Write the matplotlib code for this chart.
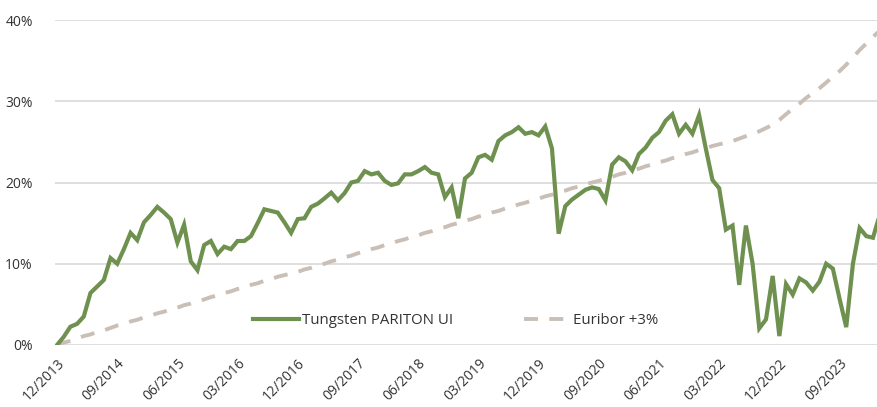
import matplotlib
matplotlib.use("Agg")
from matplotlib import pyplot as plt
import pandas as pd

# monthly performance since 12/2013, in %
fund = [0.0, 1.0, 2.25, 2.6, 3.5, 6.4, 7.2, 8.0, 10.7, 10.0, 11.8, 13.8,
        12.9, 15.1, 16.0, 17.0, 16.3, 15.5, 12.6, 14.8, 10.3, 9.2, 12.3, 12.8,
        11.2, 12.1, 11.8, 12.8, 12.8, 13.4, 15.0, 16.7, 16.5, 16.3, 15.1, 13.8,
        15.5, 15.6, 17.0, 17.4, 18.05, 18.75, 17.8, 18.7, 20.0, 20.2, 21.4, 21.0,
        21.2, 20.2, 19.7, 19.9, 21.0, 21.0, 21.4, 21.9, 21.2, 21.0, 18.2, 19.4,
        15.6, 20.5, 21.2, 23.1, 23.4, 22.8, 25.1, 25.8, 26.2, 26.8, 26.0, 26.2,
        25.8, 26.9, 24.2, 13.7, 17.1, 17.9, 18.5, 19.1, 19.4, 19.2, 17.8, 22.2,
        23.1, 22.6, 21.5, 23.5, 24.3, 25.5, 26.2, 27.6, 28.4, 26.0, 27.1, 26.0,
        28.3, 24.2, 20.3, 19.3, 14.2, 14.7, 7.4, 14.7, 10.0, 2.05, 3.15, 8.5,
        1.1, 7.5, 6.2, 8.2, 7.7, 6.7, 7.8, 10.0, 9.4, 5.7, 2.2, 10.0,
        14.4, 13.4, 13.2, 16.0]

euribor = [0.0, 0.3, 0.5, 0.8, 1.1, 1.3, 1.6, 1.8, 2.1, 2.4, 2.6, 2.9,
           3.1, 3.4, 3.6, 3.9, 4.1, 4.4, 4.6, 4.9, 5.1, 5.4, 5.6, 5.9,
           6.1, 6.4, 6.6, 6.9, 7.1, 7.4, 7.6, 7.9, 8.1, 8.4, 8.6, 8.8,
           9.0, 9.3, 9.5, 9.8, 10.0, 10.3, 10.5, 10.8, 11.0, 11.3, 11.5, 11.8,
           12.0, 12.3, 12.5, 12.8, 13.0, 13.3, 13.5, 13.8, 14.0, 14.3, 14.5, 14.8,
           15.0, 15.3, 15.5, 15.8, 16.0, 16.3, 16.5, 16.8, 17.0, 17.3, 17.5, 17.8,
           18.0, 18.3, 18.5, 18.8, 19.0, 19.3, 19.5, 19.8, 20.0, 20.2, 20.5, 20.7,
           21.0, 21.2, 21.5, 21.7, 22.0, 22.2, 22.5, 22.7, 23.0, 23.2, 23.5, 23.7,
           24.0, 24.2, 24.5, 24.7, 24.9, 25.1, 25.4, 25.7, 26.0, 26.3, 26.7, 27.1,
           27.7, 28.4, 29.1, 29.7, 30.4, 31.0, 31.6, 32.3, 33.0, 33.7, 34.5, 35.4,
           36.3, 37.1, 37.9, 38.7]

months = pd.date_range("2013-12-31", periods=len(fund), freq="ME")
tick_step = 9
y_ticks = [0, 10, 20, 30, 40]

plt.rcParams['font.family'] = ['Open Sans', 'DejaVu Sans']

fig = plt.figure(figsize=(8.77, 4.07), dpi=100)
ax = fig.add_axes([55 / 877, 1 - 345 / 407, 822 / 877, 325 / 407])

x = list(range(len(fund)))
ax.plot(x, fund, color="#6f914f", linewidth=3.0, label="Tungsten PARITON UI",
        solid_joinstyle="miter", zorder=3)
ax.plot(x, euribor, color="#c9bfb6", linewidth=2.8, linestyle=(0, (3.6, 2.9)),
        label="Euribor +3%", zorder=2)

ax.set_xlim(-0.3, 122.6)
ax.set_ylim(0, 40)
ax.set_yticks(y_ticks)
ax.set_yticklabels([f"{v}%" for v in y_ticks])
ax.yaxis.grid(True, color="#d9d9d9", linewidth=1.2)
ax.set_axisbelow(True)

xt = x[::tick_step]
ax.set_xticks(xt)
ax.set_xticklabels([months[i].strftime("%m/%Y") for i in xt], rotation=45,
                   ha="right", rotation_mode="anchor")
ax.tick_params(axis="both", length=0, labelsize=10, colors="#333333")
ax.tick_params(axis="x", pad=8)
ax.tick_params(axis="y", pad=16)

for s in ax.spines.values():
    s.set_visible(False)

ax.legend(loc="lower center", bbox_to_anchor=(0.487, 0.01), ncol=2, frameon=False,
          fontsize=10.8, handlelength=3.1, columnspacing=4.75, handletextpad=0.15,
          labelcolor="#333333")

plt.savefig("out.png", dpi=100)
